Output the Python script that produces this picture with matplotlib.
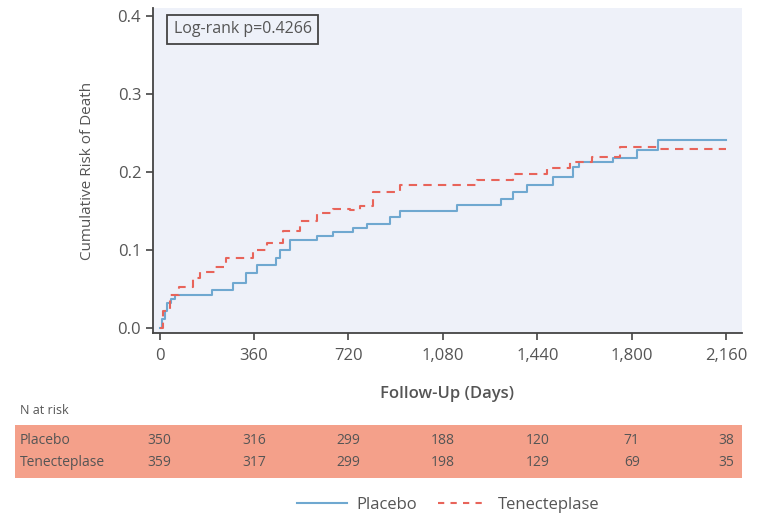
import matplotlib
matplotlib.use("Agg")
import matplotlib.pyplot as plt
from matplotlib.transforms import blended_transform_factory
from matplotlib.patches import Rectangle
from matplotlib.lines import Line2D

plt.rcParams['font.family'] = ['Open Sans', 'DejaVu Sans']

# ---- data ----
placebo_t = [0, 10, 20, 30, 45, 60, 200, 280, 330, 370, 445, 458, 496, 600, 660, 737,
             790, 878, 916, 1133, 1300, 1347, 1400, 1500, 1577, 1600, 1730, 1820, 1900, 2160]
placebo_v = [0.0, 0.012, 0.022, 0.032, 0.038, 0.043, 0.049, 0.058, 0.071, 0.081, 0.09, 0.1,
             0.113, 0.118, 0.123, 0.128, 0.134, 0.142, 0.15, 0.158, 0.166, 0.175, 0.183, 0.194,
             0.207, 0.213, 0.218, 0.228, 0.241, 0.241]
tnk_t = [0, 12, 38, 76, 126, 153, 213, 255, 355, 408, 470, 534, 600, 660, 725, 763, 813,
         916, 1210, 1347, 1477, 1565, 1650, 1756, 1900, 2160]
tnk_v = [0.0, 0.022, 0.043, 0.053, 0.064, 0.072, 0.079, 0.09, 0.1, 0.109, 0.125, 0.138,
         0.147, 0.153, 0.151, 0.157, 0.174, 0.183, 0.19, 0.198, 0.205, 0.213, 0.219,
         0.232, 0.23, 0.23]
x_ticks = [0, 360, 720, 1080, 1440, 1800, 2160]
x_ticklabels = ['0', '360', '720', '1,080', '1,440', '1,800', '2,160']
y_ticks = [0.0, 0.1, 0.2, 0.3, 0.4]
risk_groups = ['Placebo', 'Tenecteplase']
risk_placebo = [350, 316, 299, 188, 120, 71, 38]
risk_tnk = [359, 317, 299, 198, 129, 69, 35]

blue = '#6fa8d0'
red = '#e8645a'
gray = '#555555'

fig = plt.figure(figsize=(7.7, 5.18), dpi=100)
ax = fig.add_axes([153/770, 1-333/518, (742-153)/770, (333-8)/518])
ax.set_facecolor('#eef1f9')

ax.step(placebo_t, placebo_v, where='post', color=blue, lw=1.5)
ax.step(tnk_t, tnk_v, where='post', color=red, lw=1.5, ls=(0, (4, 3)))

ax.set_xlim(-25, 2220)
ax.set_ylim(-0.006, 0.41)
ax.set_xticks(x_ticks)
ax.set_xticklabels(x_ticklabels)
ax.set_yticks(y_ticks)
ax.set_yticklabels([f'{v:.1f}' for v in y_ticks])
for s in ['top', 'right']:
    ax.spines[s].set_visible(False)
for s in ['left', 'bottom']:
    ax.spines[s].set_color('#444444')
    ax.spines[s].set_linewidth(1.3)
ax.tick_params(axis='both', direction='out', length=5, width=1.2, color='#444444',
               labelcolor=gray, labelsize=12)
ax.tick_params(axis='x', pad=6)
ax.set_xlabel('Follow-Up (Days)', fontsize=12, color=gray, fontweight='semibold', labelpad=16)
ax.set_ylabel('Cumulative Risk of Death', fontsize=11, color=gray, labelpad=16)

ax.text(0.035, 0.935, 'Log-rank p=0.4266', transform=ax.transAxes, fontsize=11.5,
        color=gray, va='center', ha='left',
        bbox=dict(boxstyle='square,pad=0.4', facecolor='none', edgecolor='#444444', lw=1.3))

# ---- risk table ----
tr = blended_transform_factory(ax.transData, fig.transFigure)
fig.text(20/770, 1-410/518, 'N at risk', fontsize=9, color=gray, va='center', ha='left')
fig.patches.append(Rectangle((15/770, 1-478/518), (742-15)/770, (478-425)/518,
                             transform=fig.transFigure, facecolor='#f4a08a',
                             edgecolor='none', zorder=0))
row_y = [1-440/518, 1-463/518]
for name, y in zip(risk_groups, row_y):
    fig.text(20/770, y, name, fontsize=10, color=gray, va='center', ha='left')
for vals, y in zip([risk_placebo, risk_tnk], row_y):
    for t, v in zip(x_ticks, vals):
        fig.text(t, y, str(v), transform=tr, fontsize=10, color=gray,
                 va='center', ha='center')

# ---- legend ----
handles = [Line2D([], [], color=blue, lw=1.5),
           Line2D([], [], color=red, lw=1.5, ls=(0, (3, 3)))]
fig.legend(handles, risk_groups, loc='center', bbox_to_anchor=(448/770, 1-505/518),
           ncol=2, frameon=False, fontsize=12, labelcolor=gray, handlelength=3,
           columnspacing=1.2, handletextpad=0.6)

fig.savefig('out.png', dpi=100)
